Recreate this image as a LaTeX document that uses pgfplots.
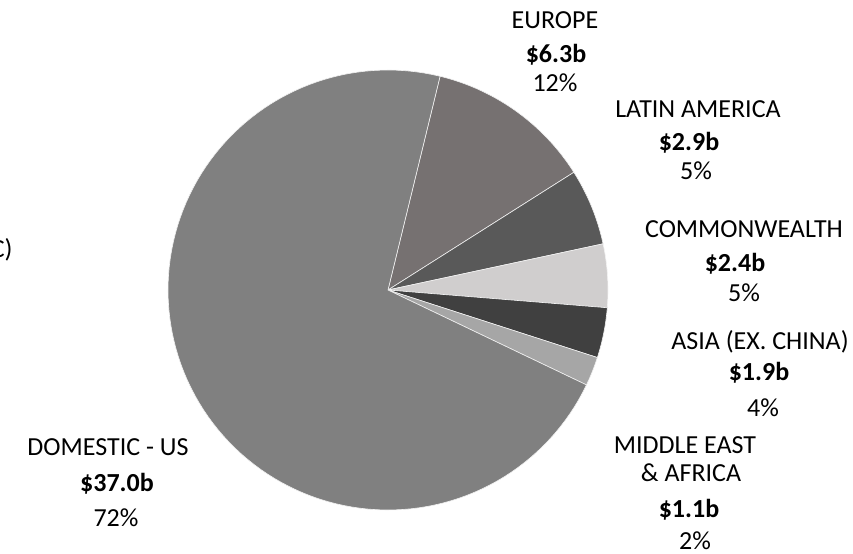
\documentclass[border=0pt]{standalone}
\usepackage{pgfplots}
\usepackage{pgfplotstable}
\pgfplotsset{compat=1.18}
\usepackage{fontspec}
\setmainfont{Carlito}

\definecolor{cdom}{HTML}{808080}
\definecolor{ceur}{HTML}{767171}
\definecolor{clat}{HTML}{595959}
\definecolor{ccom}{HTML}{D0CECE}
\definecolor{casi}{HTML}{404040}
\definecolor{cmea}{HTML}{A6A6A6}

% revenue by region, $ billions, in clockwise order from the first slice
\pgfplotstableread{
region value
Europe 6.3
LatinAmerica 2.9
Commonwealth 2.4
Asia 1.9
MiddleEastAfrica 1.1
Domestic 37.0
}\pietable

\def\pietotal{51.6}
\def\curang{76.3}
\newcommand\slice[2]{%
  \pgfplotstablegetelem{#1}{value}\of\pietable
  \pgfmathsetmacro\endang{\curang-\pgfplotsretval/\pietotal*360}%
  \edef\temp{\noexpand\addplot[fill=#2, draw=white!90!gray, line width=0.3pt,
     data cs=polar, domain=\endang:\curang, samples=120]
     ({x},{220}) -- (axis cs:0,0) -- cycle;}%
  \temp
  \global\let\curang\endang
}
\newcommand\lab[3]{\node[anchor=base, inner sep=0pt, font=\fontsize{13}{15}\selectfont]
  at (axis cs:#1-388,282-#2) {#3};}

\begin{document}
\begin{tikzpicture}
\begin{axis}[
  width=426.5pt, height=276.5pt, scale only axis,
  xmin=-388, xmax=465, ymin=-263, ymax=290,
  hide axis, clip=false,
]
\slice{0}{ceur}
\slice{1}{clat}
\slice{2}{ccom}
\slice{3}{casi}
\slice{4}{cmea}
\slice{5}{cdom}

\lab{555}{21}{EUROPE}
\lab{556}{55}{\bfseries \$6.3b}
\lab{555}{84}{12\%}

\lab{698}{110}{LATIN AMERICA}
\lab{689}{143}{\bfseries \$2.9b}
\lab{696}{172}{5\%}

\lab{744}{230}{COMMONWEALTH}
\lab{735}{263}{\bfseries \$2.4b}
\lab{744}{294}{5\%}

\lab{760}{341}{ASIA (EX. CHINA)}
\lab{759}{372}{\bfseries \$1.9b}
\lab{763}{408}{4\%}

\lab{685}{445}{MIDDLE EAST}
\lab{691}{473}{\& AFRICA}
\lab{689}{509}{\bfseries \$1.1b}
\lab{695}{541}{2\%}

\lab{108}{447}{DOMESTIC - US}
\lab{117}{483}{\bfseries \$37.0b}
\lab{116}{518}{72\%}

\node[anchor=base east, inner sep=0pt, font=\fontsize{13}{15}\selectfont]
  at (axis cs:13-388,282-250) {(ETC)};
\end{axis}
\pgfresetboundingbox
\useasboundingbox (current axis.south west) rectangle (current axis.north east);
\end{tikzpicture}
\end{document}
